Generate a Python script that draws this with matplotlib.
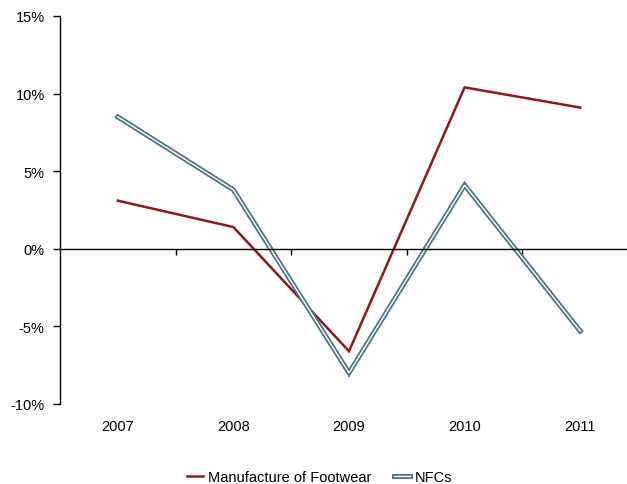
import matplotlib
matplotlib.use("Agg")
import matplotlib.pyplot as plt
import matplotlib.patheffects as pe
import numpy as np

plt.rcParams['font.family'] = ['Liberation Sans', 'DejaVu Sans']

years = ['2007', '2008', '2009', '2010', '2011']
footwear = [3.1, 1.4, -6.6, 10.4, 9.1]
nfcs = [8.5, 3.8, -8.0, 4.1, -5.3]
yticks = [-10, -5, 0, 5, 10, 15]

footwear_color = '#8B1A1A'
nfcs_color = '#4F7686'

fig = plt.figure(figsize=(6.27, 4.85), dpi=100)
ax = fig.add_axes([60 / 627, 80 / 485, 578 / 627, 388 / 485])

x = np.arange(len(years))
ax.plot(x, footwear, color=footwear_color, lw=1.8, label='Manufacture of Footwear',
        solid_joinstyle='miter')
ax.plot(x, nfcs, color='white', lw=1.0, label='NFCs', solid_joinstyle='miter',
        path_effects=[pe.Stroke(linewidth=3.6, foreground=nfcs_color), pe.Normal()])

ax.set_xlim(-0.5, len(years) - 0.5)
ax.set_ylim(yticks[0], yticks[-1])
ax.set_yticks(yticks)
ax.set_yticklabels([f'{v}%' for v in yticks])
ax.tick_params(axis='y', direction='out', length=5, width=1, pad=6,
               labelsize=10.5, color='black')

# category axis drawn through zero, with marks between categories
for side in ('top', 'right'):
    ax.spines[side].set_visible(False)
ax.spines['bottom'].set_position(('data', 0))
ax.spines['left'].set_linewidth(1)
ax.spines['bottom'].set_linewidth(1)
ax.set_xticks(x[:-1] + 0.5)
ax.tick_params(axis='x', direction='out', length=4, width=1, labelbottom=False)

# year labels below the plot area
sec = ax.secondary_xaxis(0)
sec.set_xticks(x)
sec.set_xticklabels(years)
sec.spines['bottom'].set_visible(False)
sec.tick_params(axis='x', length=0, pad=11, labelsize=10.5)

leg = fig.legend(loc='lower center', bbox_to_anchor=(0.51, -0.027), ncol=2, frameon=False,
                 fontsize=10.5, handlelength=1.1, handletextpad=0.3, columnspacing=1.6)

fig.savefig('out.png', dpi=100)
